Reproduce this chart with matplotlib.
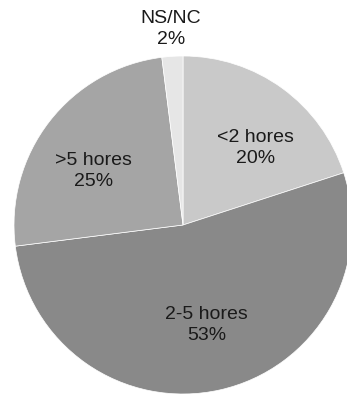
import matplotlib
matplotlib.use("Agg")
import matplotlib.pyplot as plt

labels = ["<2 hores", "2-5 hores", ">5 hores", "NS/NC"]
values = [20, 53, 25, 2]
colors = ["#c9c9c9", "#898989", "#a5a5a5", "#e6e6e6"]
# label centres, in units of the pie radius
label_pos = [(0.43, 0.455), (0.14, -0.59), (-0.53, 0.32), (-0.07, 1.16)]

plt.rcParams['font.family'] = ['Liberation Sans', 'DejaVu Sans']

W, H = 347, 397
fig = plt.figure(figsize=(W / 100, H / 100), dpi=100)
cx, cy, r = 183, 225, 169
ax = fig.add_axes([(cx - r) / W, (H - cy - r) / H, 2 * r / W, 2 * r / H])

wedges, _ = ax.pie(values, colors=colors, startangle=90, counterclock=False,
                   wedgeprops=dict(edgecolor="white", linewidth=0.5))
ax.set_xlim(-1, 1)
ax.set_ylim(-1, 1)
ax.set_aspect("equal")
ax.axis("off")

for lab, v, (x, y) in zip(labels, values, label_pos):
    ax.text(x, y, "%s\n%d%%" % (lab, v), ha="center", va="center",
            fontsize=14, color="#1a1a1a", linespacing=1.3)

fig.savefig("out.png", dpi=100)
